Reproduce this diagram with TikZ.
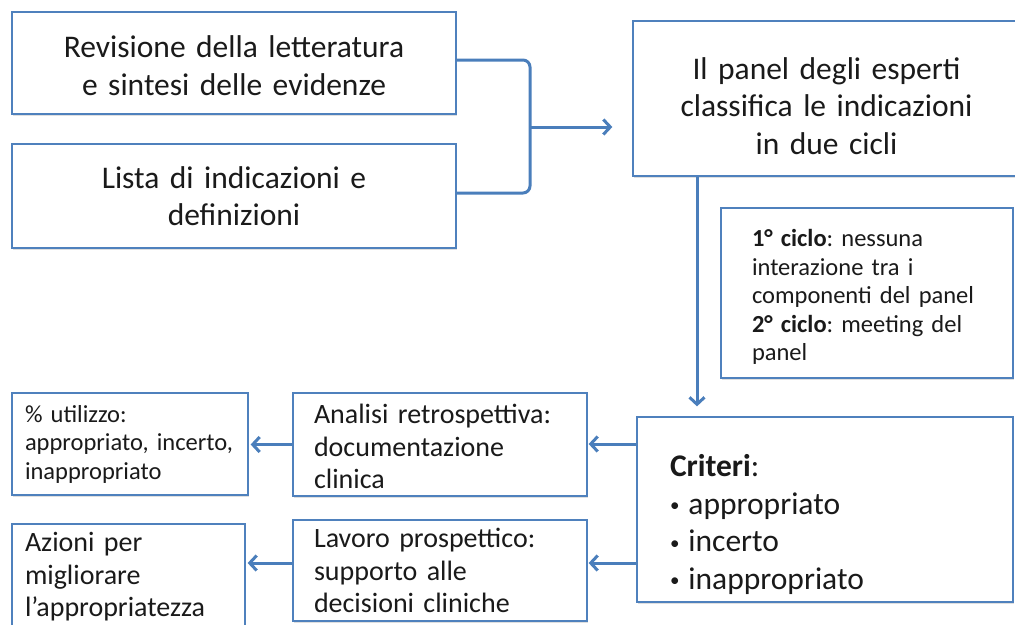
\documentclass[tikz,border=0pt]{standalone}
\usepackage{fontspec}
\setmainfont{Carlito}
\frenchspacing
\usetikzlibrary{arrows.meta,shadows}
\definecolor{boxblue}{HTML}{4F81BD}
\definecolor{arrblue}{HTML}{4A7EBB}
\definecolor{txt}{HTML}{1A1A1A}
\newcommand{\blt}{{\fontsize{19}{19}\selectfont\raisebox{2.5pt}{•}}\hspace{9pt}}
\begin{document}
\begin{tikzpicture}[x=1pt,y=-1pt,
  box/.style={draw=boxblue, line width=1.3pt, fill=white, inner sep=0pt, text=txt,
    drop shadow={opacity=0.25, shadow xshift=0.8pt, shadow yshift=-2pt}},
  big/.style={font=\fontsize{31.5}{37.5}\selectfont},
  mid/.style={font=\fontsize{28}{32.5}\selectfont},
  small/.style={font=\fontsize{24.5}{28.5}\selectfont},
  conn/.style={draw=arrblue, line width=3pt},
  arr/.style={conn, -{Straight Barb[length=7pt,width=15pt]}}]
\path[use as bounding box] (0,0) rectangle (1015,624);
\clip (0,0) rectangle (1015,624);
% top left boxes
\node[box, big, minimum width=444pt, minimum height=102pt, text width=430pt, align=center,
  text height=0pt, text depth=11pt] (A) at (234,63)
  {Revisione della letteratura\\e sintesi delle evidenze};
\node[box, big, minimum width=444pt, minimum height=104pt, text width=430pt, align=center] (B) at (234,196)
  {Lista di indicazioni e\\definizioni};
% panel
\node[box, big, minimum width=387pt, minimum height=155pt, text width=370pt, align=center,
  text height=0pt, text depth=39pt] (P) at (826.5,98.5)
  {Il panel degli esperti\\classifica le indicazioni\\in due cicli};
% info
\node[box, small, minimum width=292pt, minimum height=170pt, text width=230pt, align=left,
  text height=0pt, text depth=93pt] (I) at (867,293)
  {\textbf{1° ciclo}: nessuna\\interazione tra i\\componenti del panel\\\textbf{2° ciclo}: meeting del\\panel};
% criteri
\node[box, big, minimum width=376pt, minimum height=185pt, text width=310pt, align=left,
  text height=0pt, text depth=66pt] (C) at (825,509.5)
  {\textbf{Criteri}:\\\blt appropriato\\\blt incerto\\\blt inappropriato};
% middle column
\node[box, mid, minimum width=294pt, minimum height=103pt, text width=252pt, align=left,
  text height=0pt, text depth=42pt] (R) at (440,444.5)
  {Analisi retrospettiva:\\documentazione\\clinica};
\node[box, mid, minimum width=294pt, minimum height=101pt, text width=252pt, align=left] (L) at (440,570.5)
  {Lavoro prospettico:\\supporto alle\\decisioni cliniche};
% left column
\node[box, small, minimum width=236pt, minimum height=102pt, text width=210pt, align=left] (U) at (130,444)
  {\% utilizzo:\\appropriato, incerto,\\inappropriato};
\node[box, mid, minimum width=233pt, minimum height=106pt, text width=207pt, align=left] (Z) at (128.5,577)
  {Azioni per\\migliorare\\l’appropriatezza};
% connectors
\coordinate (J) at (530,127);
\draw[conn, rounded corners=7pt] ([yshift=3pt]A.east) -- (530,60) -- (530,193) -- ([yshift=3pt]B.east);
\draw[arr, shorten >=20pt] (J) -- ([yshift=-28.5pt]P.west);
\draw[arr, shorten >=10pt] ([xshift=-129.5pt]P.south) -- ([xshift=-128pt]C.north);
\draw[arr, shorten >=1pt] ([yshift=65.5pt]C.west) -- ([yshift=65.5pt]C.west -| R.east);
\draw[arr, shorten >=1pt] ([yshift=-53.5pt]C.west) -- ([yshift=-53.5pt]C.west -| L.east);
\draw[arr, shorten >=2pt] (R.west) -- (R.west -| U.east);
\draw[arr, shorten >=2pt] ([yshift=7.5pt]L.west) -- ([yshift=7.5pt]L.west -| Z.east);
\end{tikzpicture}
\end{document}
